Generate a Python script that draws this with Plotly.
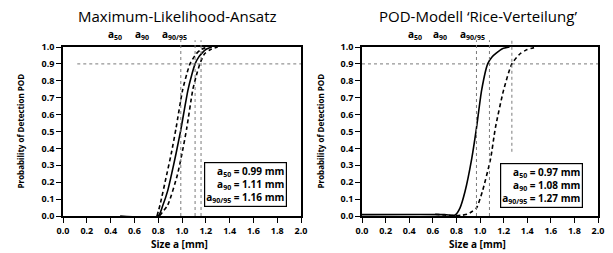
import plotly.graph_objects as go

# ---- data ----
# Left panel: Maximum-Likelihood-Ansatz
ml_solid_x = [0.48, 0.80, 0.84, 0.88, 0.91, 0.95, 0.99, 1.02, 1.05, 1.08, 1.11, 1.14, 1.17, 1.20, 1.25]
ml_solid_p = [0.0, 0.0, 0.065, 0.15, 0.24, 0.37, 0.51, 0.63, 0.745, 0.83, 0.90, 0.94, 0.965, 0.985, 1.0]
ml_lo_x = [0.79, 0.815, 0.87, 0.91, 0.95, 1.005, 1.04, 1.067, 1.12, 1.16, 1.21]
ml_lo_p = [0.0, 0.065, 0.24, 0.37, 0.52, 0.745, 0.84, 0.90, 0.96, 0.985, 1.0]
ml_hi_x = [0.81, 0.88, 0.96, 1.00, 1.04, 1.09, 1.12, 1.15, 1.19, 1.24, 1.30]
ml_hi_p = [0.0, 0.065, 0.24, 0.37, 0.52, 0.745, 0.83, 0.90, 0.96, 0.985, 1.0]
ml_a = [0.99, 1.11, 1.16]
ml_a_bottom = [0.0, 0.0, 0.0]
ml_hline_x = [0.12, 2.0]

# Right panel: POD-Modell 'Rice-Verteilung'
rice_solid_x = [0.0, 0.70, 0.76, 0.79, 0.83, 0.873, 0.93, 0.97, 1.014, 1.065, 1.10, 1.14, 1.19, 1.25]
rice_solid_p = [0.008, 0.008, 0.004, 0.006, 0.047, 0.145, 0.34, 0.52, 0.745, 0.90, 0.94, 0.965, 0.99, 1.0]
rice_dash_x = [0.62, 0.70, 0.78, 0.84, 0.89, 0.93, 0.97, 1.02, 1.09, 1.13, 1.20, 1.27, 1.34, 1.40, 1.48]
rice_dash_p = [0.01, 0.006, 0.002, 0.004, 0.01, 0.025, 0.047, 0.145, 0.34, 0.52, 0.745, 0.90, 0.96, 0.985, 1.0]
rice_a = [0.97, 1.08, 1.27]
rice_a_bottom = [0.0, 0.0, 0.38]
rice_hline_x = [0.0, 2.0]

a_top = 1.04
p90 = 0.9

x_ticks = [0.0, 0.2, 0.4, 0.6, 0.8, 1.0, 1.2, 1.4, 1.6, 1.8, 2.0]
y_ticks = [0.0, 0.1, 0.2, 0.3, 0.4, 0.5, 0.6, 0.7, 0.8, 0.9, 1.0]

titles = ["Maximum-Likelihood-Ansatz", "POD-Modell \u2018Rice-Verteilung\u2019"]
box_texts = [
    ["a<sub>50</sub> = 0.99 mm", "a<sub>90</sub> = 1.11 mm", "a<sub>90/95</sub> = 1.16 mm"],
    ["a<sub>50</sub> = 0.97 mm", "a<sub>90</sub> = 1.08 mm", "a<sub>90/95</sub> = 1.27 mm"],
]
top_labels = ["a<sub>50</sub>", "a<sub>90</sub>", "a<sub>90/95</sub>"]
top_label_x = [[0.44, 0.66, 0.94], [0.45, 0.66, 0.94]]

# ---- layout geometry ----
W, H = 613, 253
FONT = "Open Sans"
px_left = [(63, 301), (362, 598)]
py_top, py_bot, py_ext = 47, 216, 38

def yd(py):
    return 1 - py / H

fig = go.Figure()

panels = [
    dict(solid=(ml_solid_x, ml_solid_p), dashes=[(ml_lo_x, ml_lo_p), (ml_hi_x, ml_hi_p)],
         a=ml_a, ab=ml_a_bottom, hx=ml_hline_x),
    dict(solid=(rice_solid_x, rice_solid_p), dashes=[(rice_dash_x, rice_dash_p)],
         a=rice_a, ab=rice_a_bottom, hx=rice_hline_x),
]

ext_range = (py_bot - py_ext) / (py_bot - py_top)

for i, pn in enumerate(panels):
    xa = "x" if i == 0 else "x2"
    ya = "y" if i == 0 else "y2"
    xe = "x3" if i == 0 else "x4"
    ye = "y3" if i == 0 else "y4"
    for a, b in zip(pn["a"], pn["ab"]):
        fig.add_trace(go.Scatter(x=[a, a], y=[b, a_top], mode="lines", xaxis=xe, yaxis=ye,
                                 line=dict(color="#7a7a7a", width=1, dash="dot"),
                                 showlegend=False, hoverinfo="skip"))
    fig.add_trace(go.Scatter(x=pn["hx"], y=[p90, p90], mode="lines", xaxis=xa, yaxis=ya,
                             line=dict(color="#7a7a7a", width=1, dash="dot"),
                             showlegend=False, hoverinfo="skip"))
    for dx, dp in pn["dashes"]:
        fig.add_trace(go.Scatter(x=dx, y=dp, mode="lines", xaxis=xa, yaxis=ya,
                                 line=dict(color="black", width=1.6, dash="4px,3px", shape="spline", smoothing=0.6),
                                 showlegend=False))
    sx, sp = pn["solid"]
    fig.add_trace(go.Scatter(x=sx, y=sp, mode="lines", xaxis=xa, yaxis=ya,
                             line=dict(color="black", width=1.6, shape="spline", smoothing=0.6),
                             showlegend=False))

axis_common = dict(showline=True, linecolor="black", linewidth=1.5, mirror=True,
                   ticks="outside", ticklen=5, tickwidth=1.2, tickcolor="black",
                   showgrid=False, zeroline=False, automargin=False,
                   tickfont=dict(family=FONT, size=9, color="black", weight="bold"))

layout = dict(width=W, height=H, autosize=False, margin=dict(l=0, r=0, t=0, b=0, pad=0),
              paper_bgcolor="white", plot_bgcolor="rgba(0,0,0,0)", showlegend=False)
for i, (l, r) in enumerate(px_left):
    sfx = "" if i == 0 else "2"
    layout["xaxis" + sfx] = dict(axis_common, domain=[l / W, r / W], range=[0, 2],
                                 tickvals=x_ticks, ticktext=[f"{v:.1f}" for v in x_ticks],
                                 anchor="y" + sfx)
    layout["yaxis" + sfx] = dict(axis_common, domain=[yd(py_bot), yd(py_top)], range=[0, 1],
                                 tickvals=y_ticks, ticktext=[f"{v:.1f}" for v in y_ticks],
                                 anchor="x" + sfx)
    esx = "3" if i == 0 else "4"
    layout["xaxis" + esx] = dict(domain=[l / W, r / W], range=[0, 2], visible=False,
                                 anchor="y" + esx)
    layout["yaxis" + esx] = dict(domain=[yd(py_bot), yd(py_ext)], range=[0, ext_range],
                                 visible=False, anchor="x" + esx)
fig.update_layout(**layout)

anns = []
title_cx = [177, 478]
yt_cx = [20, 320]
box_right = [287, 583]
box_bottom = [207, 208]
for i in range(2):
    l, r = px_left[i]
    anns.append(dict(text=titles[i], x=title_cx[i] / W, y=yd(16), xref="paper", yref="paper",
                     xanchor="center", yanchor="middle", showarrow=False,
                     font=dict(family=FONT, size=15, color="black")))
    anns.append(dict(text="<b>Probability of Detection POD</b>", x=yt_cx[i] / W, y=yd(131.5),
                     xref="paper", yref="paper", xanchor="center", yanchor="middle",
                     textangle=-90, showarrow=False,
                     font=dict(family=FONT, size=8, color="black")))
    anns.append(dict(text="<b>Size a [mm]</b>", x=((l + r) / 2 - 3) / W, y=yd(244),
                     xref="paper", yref="paper", xanchor="center", yanchor="middle",
                     showarrow=False, font=dict(family=FONT, size=10, color="black")))
    xr = "x" if i == 0 else "x2"
    for lab, lx in zip(top_labels, top_label_x[i]):
        anns.append(dict(text="<b>" + lab + "</b>", x=lx, y=yd(35), xref=xr, yref="paper",
                         xanchor="center", yanchor="middle", showarrow=False,
                         font=dict(family=FONT, size=10, color="black")))
    anns.append(dict(text="<br>".join("<b>" + t + "</b>" for t in box_texts[i]),
                     x=box_right[i] / W, y=yd(box_bottom[i]), xref="paper", yref="paper",
                     xanchor="right", yanchor="bottom", align="right", showarrow=False,
                     bordercolor="black", borderwidth=1.2, borderpad=1, bgcolor="white",
                     font=dict(family=FONT, size=10, color="black")))
fig.update_layout(annotations=anns)

fig.write_html("out.html", config={"displayModeBar": False},
               post_script="document.body.style.margin='0px';")
